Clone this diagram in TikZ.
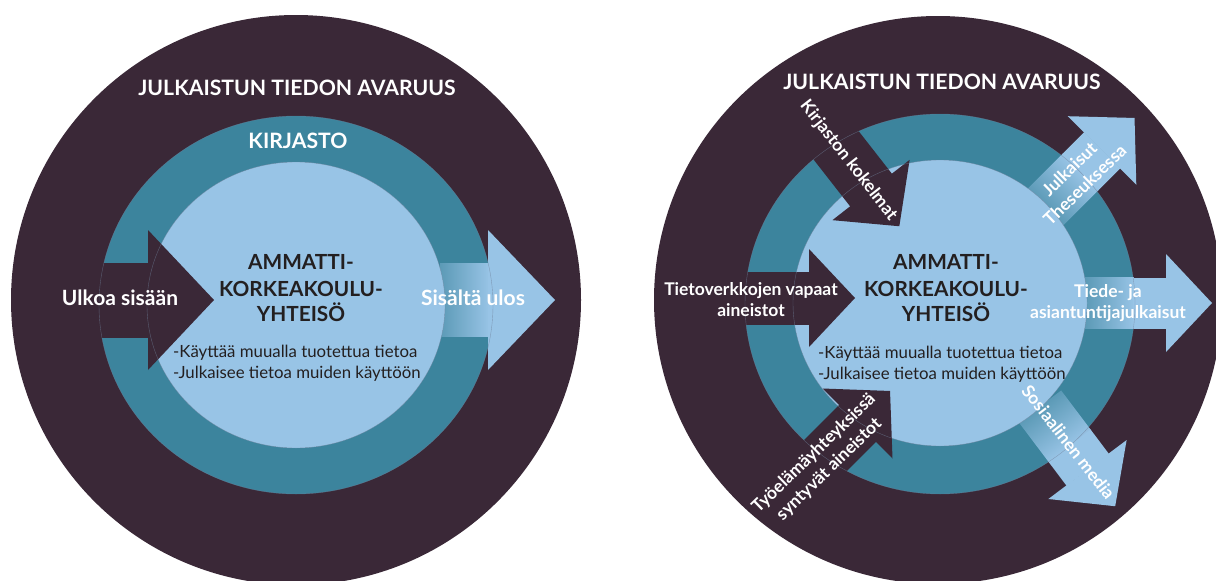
\documentclass[tikz,border=0pt]{standalone}
\usepackage{fontspec}
\setmainfont{Lato}
\usetikzlibrary{fadings}
\definecolor{darkc}{HTML}{3A2837}
\definecolor{darkhl}{HTML}{4F485C}
\definecolor{tealc}{HTML}{3C849D}
\definecolor{lightb}{HTML}{98C4E6}
\definecolor{textdark}{HTML}{231F20}
\definecolor{seamc}{HTML}{6E7F98}
\tikzfading[name=shaftfade, left color=transparent!65, right color=transparent!0]
\begin{document}
\begin{tikzpicture}[x=1pt,y=-1pt,
  ttl/.style={text=white, font=\bfseries\fontsize{21.2}{24}\selectfont, inner sep=0pt, anchor=base},
  core/.style={text=textdark, font=\bfseries\fontsize{20.8}{24}\selectfont, inner sep=0pt, anchor=base},
  bul/.style={text=textdark, font=\fontsize{16.8}{20}\selectfont, inner sep=0pt, anchor=base west},
  biglab/.style={text=white, font=\bfseries\fontsize{21}{24}\selectfont, inner sep=0pt, anchor=base},
  lab/.style={text=white, font=\bfseries\fontsize{17.5}{21.5}\selectfont, inner sep=0pt, anchor=base},
  rlab/.style={text=white, font=\bfseries\fontsize{17.5}{22}\selectfont, inner sep=0pt, align=center, anchor=center},
  seam/.style={draw=seamc, line width=0.4pt, draw opacity=0.6}]
\useasboundingbox (0,0) rectangle (1216,581);
\fill[white] (0,0) rectangle (1216,581);
\clip (0,0) rectangle (1216,581);

% ================= LEFT DIAGRAM =================
\fill[darkc] (296,300) circle [radius=285pt];
\fill[tealc] (296,305) ellipse [x radius=197pt, y radius=189pt];
\fill[lightb] (296,305) ellipse [x radius=149pt, y radius=143pt];
% inward arrow
\shade[left color=darkc, middle color=darkhl, right color=darkc] (50,263) rectangle (149,337);
\fill[darkc] (148,230) -- (214,300) -- (148,370) -- cycle;
% outward arrow
\fill[lightb, path fading=shaftfade] (440,263) rectangle (489,337);
\fill[lightb] (488,230) -- (555,300) -- (488,370) -- cycle;
\draw[seam] (296,305) ellipse [x radius=197pt, y radius=189pt];
\draw[seam] (296,305) ellipse [x radius=149pt, y radius=143pt];

\node[ttl] (ltitle) at (297,95) {JULKAISTUN TIEDON AVARUUS};
\node[ttl] (lkirj) at (298,148) {KIRJASTO};
\node[core] (lc1) at (301,269.3) {AMMATTI-};
\node[core] (lc2) at (301,296.7) {KORKEAKOULU-};
\node[core] (lc3) at (301,321.7) {YHTEISÖ};
\node[bul] (lb1) at (173,357.3) {-Käyttää muualla tuotettua tietoa};
\node[bul] (lb2) at (173,378.3) {-Julkaisee tietoa muiden käyttöön};
\node[biglab] (lin) at (120,305) {Ulkoa sisään};
\node[biglab] (lout) at (473,305) {Sisältä ulos};

% ================= RIGHT DIAGRAM =================
\fill[darkc] (938,300) circle [radius=284pt];
\fill[tealc] (940,304) ellipse [x radius=195pt, y radius=190pt];
\fill[lightb] (940,303) ellipse [x radius=147pt, y radius=143pt];
% A: Tietoverkkojen vapaat aineistot (in)
\shade[left color=darkc, middle color=darkhl, right color=darkc] (685,272) rectangle (810,324);
\fill[darkc] (809,249) -- (855,298) -- (809,347) -- cycle;
% B: Kirjaston kokelmat (in)
\begin{scope}[transform canvas={shift={(871,190)}, rotate=-52}]
  \fill[darkc] (-75,-26.5) rectangle (0.5,26.5);
  \fill[darkc] (0,-49) -- (46,0) -- (0,49) -- cycle;
\end{scope}
% C: Tyoelamayhteyksissa syntyvat aineistot (in)
\begin{scope}[transform canvas={shift={(857.5,423.5)}, rotate=45}]
  \fill[darkc] (-70,-26) rectangle (0.5,26);
  \fill[darkc] (0,-49.5) -- (46,0) -- (0,49.5) -- cycle;
\end{scope}
% D: Julkaisut Theseuksessa (out)
\begin{scope}[transform canvas={shift={(1102,150.5)}, rotate=45}]
  \fill[lightb, path fading=shaftfade] (-80,-25.5) rectangle (-30,25.5);
  \fill[lightb] (-31,-25.5) rectangle (0.5,25.5);
  \fill[lightb] (0,-48.5) -- (46,0) -- (0,48.5) -- cycle;
\end{scope}
% E: Tiede- ja asiantuntijajulkaisut (out)
\fill[lightb, path fading=shaftfade] (1085,277.5) rectangle (1134,328.5);
\fill[lightb] (1133,277.5) rectangle (1167,328.5);
\fill[lightb] (1166,254) -- (1212,303) -- (1166,352) -- cycle;
% F: Sosiaalinen media (out)
\begin{scope}[transform canvas={shift={(1087.5,469.5)}, rotate=-53}]
  \fill[lightb, path fading=shaftfade] (-79,-26.5) rectangle (-29,26.5);
  \fill[lightb] (-30,-26.5) rectangle (0.5,26.5);
  \fill[lightb] (0,-49) -- (46,0) -- (0,49) -- cycle;
\end{scope}
\draw[seam] (940,304) ellipse [x radius=195pt, y radius=190pt];
\draw[seam] (940,303) ellipse [x radius=147pt, y radius=143pt];

\node[ttl] (rtitle) at (942,89.3) {JULKAISTUN TIEDON AVARUUS};
\node[core] (rc1) at (946,269.3) {AMMATTI-};
\node[core] (rc2) at (946,296.7) {KORKEAKOULU-};
\node[core] (rc3) at (946,321.7) {YHTEISÖ};
\node[bul] (rb1) at (818,358.3) {-Käyttää muualla tuotettua tietoa};
\node[bul] (rb2) at (818,379.3) {-Julkaisee tietoa muiden käyttöön};
\node[lab] (ra1) at (751,295) {Tietoverkkojen vapaat};
\node[lab] (ra2) at (751,316) {aineistot};
\node[lab] (re1) at (1108,297) {Tiede- ja};
\node[lab] (re2) at (1108,318.3) {asiantuntijajulkaisut};
\node[rlab, rotate=-52] (rbk) at (848.5,160.5) {Kirjaston kokelmat};
\node[rlab, rotate=-52] (rfs) at (1068.5,442) {Sosiaalinen media};
\node[rlab, rotate=44] (rdj) at (1077,177) {Julkaisut\\Theseuksessa};
\node[rlab, rotate=44] (rct) at (821.5,461.5) {Työelämäyhteyksissä\\syntyvät aineistot};
\end{tikzpicture}
\end{document}
